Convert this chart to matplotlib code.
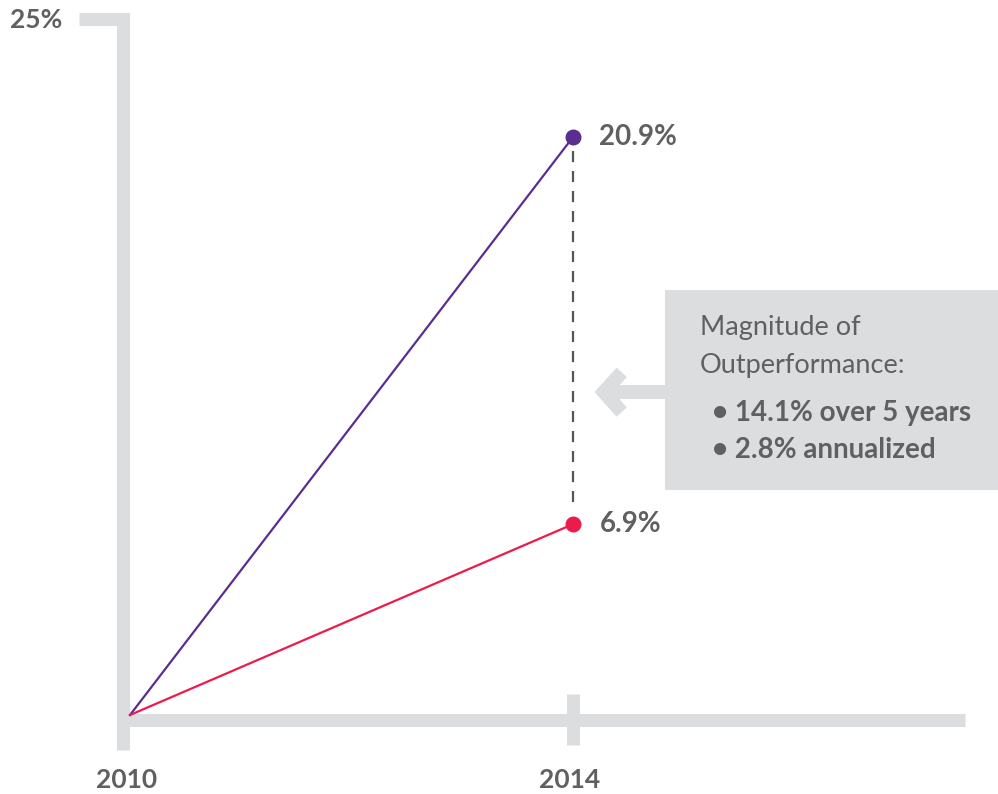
import matplotlib.pyplot as plt

# data
years = [2010, 2014]
fund = [0.0, 20.9]        # purple line
bench = [0.0, 6.9]        # red line
tick_years = [2010, 2014]
y_top = 25
box_title = ["Magnitude of", "Outperformance:"]
box_bullets = ["\u2022 14.1% over 5 years", "\u2022 2.8% annualized"]

purple = "#5a2d91"
red = "#ec1b4b"
light = "#dcdddf"
text_c = "#606062"

plt.rcParams['font.family'] = ['Lato', 'DejaVu Sans']

fig = plt.figure(figsize=(9.98, 7.94), dpi=100)
ax = fig.add_axes([0, 0, 1, 1])
ax.set_xlim(2008.826, 2017.837)
ax.set_ylim(-2.857, 25.854)
ax.axis('off')

# thick gray axes drawn by hand
ax.plot([2009.54, 2009.941, 2009.941], [25.17, 25.17, -1.27], color=light,
        lw=9.4, solid_joinstyle='miter', solid_capstyle='butt', zorder=1)
ax.plot([2009.941, 2017.54], [-0.18, -0.18], color=light, lw=9.4,
        solid_capstyle='butt', zorder=1)
ax.plot([2014, 2014], [0.76, -1.08], color=light, lw=9.4,
        solid_capstyle='butt', zorder=1)

ax.text(2008.916, y_top + 0.13, f"{y_top}%", ha='left', va='center',
        fontsize=19, fontweight='bold', color=text_c)
for yr in tick_years:
    ax.text(yr - 0.03, -2.35, str(yr), ha='center', va='center',
            fontsize=19, fontweight='bold', color=text_c)

# dashed gap line
ax.plot([years[1], years[1]], [fund[1] - 0.5, bench[1] + 0.5], color="#555555",
        lw=1.6, ls=(0, (5, 4)), zorder=2)

ax.plot(years, fund, color=purple, lw=1.6, zorder=3)
ax.plot(years, bench, color=red, lw=1.6, zorder=3)
ax.scatter([years[1]], [fund[1]], s=110, color=purple, zorder=4)
ax.scatter([years[1]], [bench[1]], s=110, color=red, zorder=4)

for val in [fund[1], bench[1]]:
    ax.annotate(f"{val}%", (years[1], val), xytext=(19, 0),
                textcoords='offset points', ha='left', va='center',
                fontsize=20, fontweight='bold', color=text_c)

# callout box
ax.add_patch(plt.Rectangle((0.6663, 0.3829), 0.34, 0.2519, transform=ax.transAxes,
                           color=light, lw=0, zorder=1))
ax.plot([0.6663, 0.605], [0.5063, 0.5063], transform=ax.transAxes, color=light,
        lw=10, solid_capstyle='butt', zorder=1)
ax.plot([0.623, 0.605, 0.623], [0.531, 0.5063, 0.481], transform=ax.transAxes,
        color=light, lw=10, solid_joinstyle='miter', solid_capstyle='butt', zorder=1)

ax.text(0.7014, 0.588, box_title[0], transform=ax.transAxes, ha='left', va='center',
        fontsize=19.5, color=text_c)
ax.text(0.7014, 0.540, box_title[1], transform=ax.transAxes, ha='left', va='center',
        fontsize=19.5, color=text_c)
ax.text(0.7134, 0.480, box_bullets[0], transform=ax.transAxes, ha='left', va='center',
        fontsize=20, fontweight='bold', color=text_c)
ax.text(0.7134, 0.433, box_bullets[1], transform=ax.transAxes, ha='left', va='center',
        fontsize=20, fontweight='bold', color=text_c)

fig.savefig("out.png", dpi=100)
